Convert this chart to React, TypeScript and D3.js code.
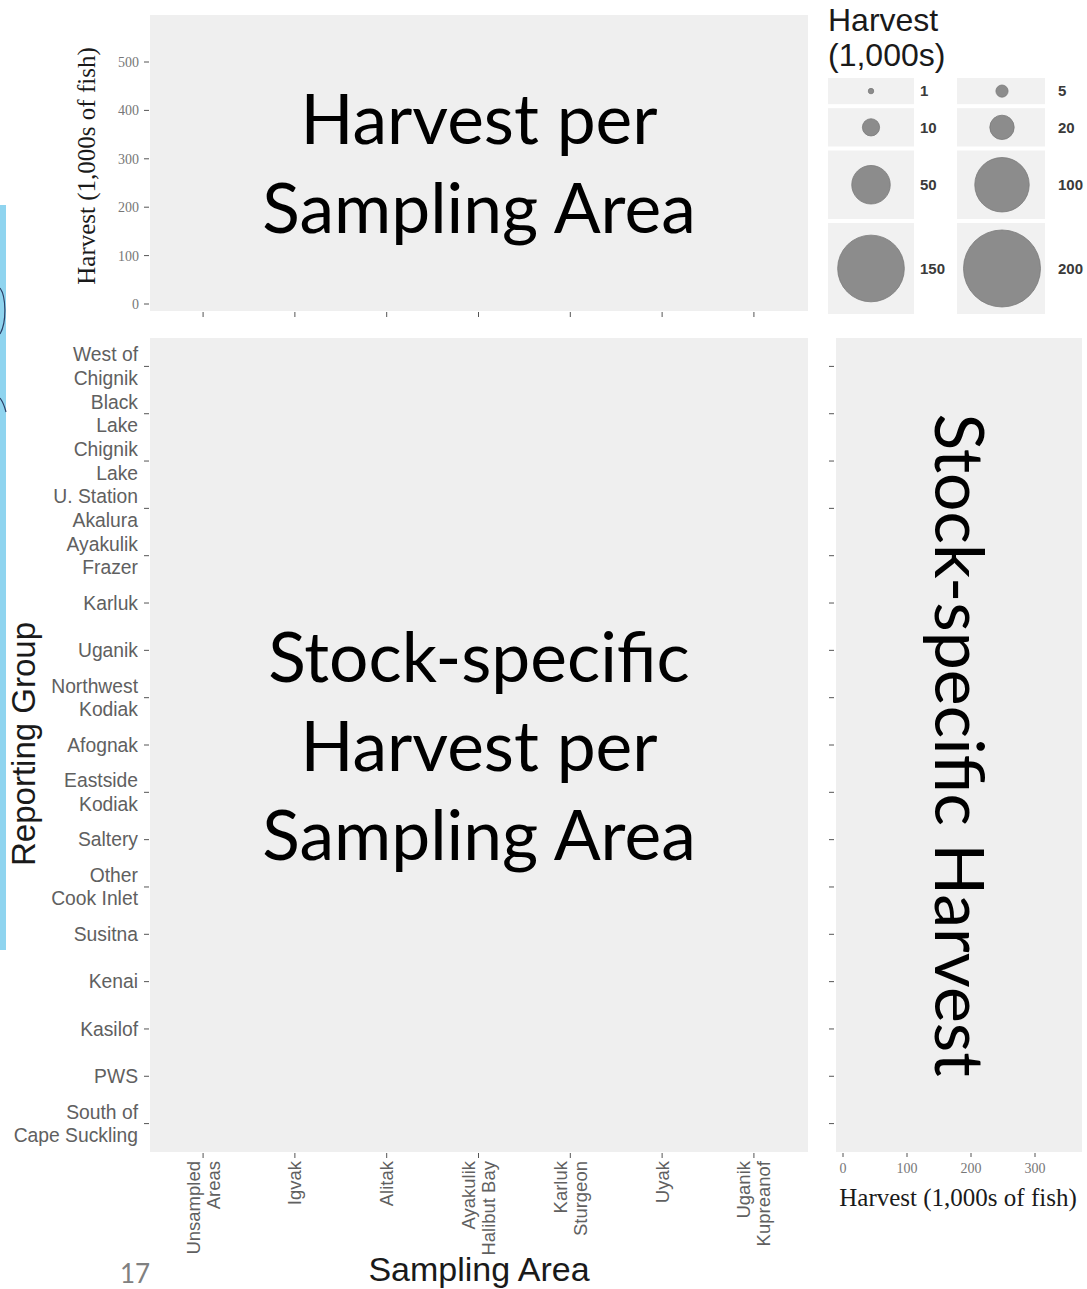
import React from "react";
import * as d3 from "d3";

const samplingAreas = ["Unsampled\nAreas", "Igvak", "Alitak", "Ayakulik\nHalibut Bay", "Karluk\nSturgeon", "Uyak", "Uganik\nKupreanof"];
const reportingGroups = [
  "West of\nChignik", "Black\nLake", "Chignik\nLake", "U. Station\nAkalura", "Ayakulik\nFrazer",
  "Karluk", "Uganik", "Northwest\nKodiak", "Afognak", "Eastside\nKodiak", "Saltery",
  "Other\nCook Inlet", "Susitna", "Kenai", "Kasilof", "PWS", "South of\nCape Suckling",
];
const harvestTicks = [0, 100, 200, 300, 400, 500];
const stockHarvestTicks = [0, 100, 200, 300];
const legendValues = [1, 5, 10, 20, 50, 100, 150, 200];
const legendTitle = ["Harvest", "(1,000s)"];
const topPanelText = ["Harvest per", "Sampling Area"];
const mainPanelText = ["Stock-specific", "Harvest per", "Sampling Area"];
const rightPanelText = "Stock-specific Harvest";

const W = 1087, H = 1289;
const PANEL = "#efefef";
const KEY = "#f1f1f1";
const AXIS_TEXT = "#606060";
const SANS = "'Liberation Sans', Arial, sans-serif";
const SERIF = "'Liberation Serif', 'Times New Roman', serif";
const SLIDE = "Lato, 'Open Sans', sans-serif";

const top = { x0: 150, x1: 808, y0: 15, y1: 311 };
const main = { x0: 150, x1: 808, y0: 338, y1: 1152 };
const right = { x0: 836, x1: 1082, y0: 338, y1: 1152 };

export default function App() {
  const xArea = d3.scalePoint<string>().domain(samplingAreas).range([148, 809]).padding(0.6);
  const yGroup = d3.scalePoint<string>().domain(reportingGroups).range([main.y0, main.y1]).padding(0.6);
  const yTop = d3.scaleLinear().domain([0, 500]).range([304, 62]);
  const xRight = d3.scaleLinear().domain([0, 300]).range([843, 1035]);
  const size = d3.scaleSqrt().domain([0, 200]).range([0, 38.5]);

  const axisFs = 19.3;
  const lineH = 23.5;

  const rows = d3.range(legendValues.length / 2).map((i) => [legendValues[2 * i], legendValues[2 * i + 1]]);
  const rowHeights = rows.map((r) => Math.max(24, 2 * size(d3.max(r) as number) + 14));
  let acc = 78;
  const rowTops = rowHeights.map((h) => { const t = acc; acc += h + 4; return t; });
  const cols = [
    { x: 828, w: 86, cx: 871, lx: 920 },
    { x: 957, w: 88, cx: 1002, lx: 1058 },
  ];

  return (
    <div style={{ position: "absolute", left: 0, top: 0 }}>
      <svg width={W} height={H} style={{ display: "block", background: "#fff" }}>
        <rect x={0} y={205} width={6} height={745} fill="#8fd4ef" />
        <path d="M0,288 C6,296 7,322 0,334" fill="none" stroke="#2a3f66" strokeWidth={1.2} />
        <path d="M0,398 C3,402 5,408 6,412" fill="none" stroke="#2a3f66" strokeWidth={1.2} />

        <rect x={top.x0} y={top.y0} width={top.x1 - top.x0} height={top.y1 - top.y0} fill={PANEL} />
        <rect x={main.x0} y={main.y0} width={main.x1 - main.x0} height={main.y1 - main.y0} fill={PANEL} />
        <rect x={right.x0} y={right.y0} width={right.x1 - right.x0} height={right.y1 - right.y0} fill={PANEL} />

        {harvestTicks.map((t) => (
          <g key={"ty" + t}>
            <line x1={144} x2={149} y1={yTop(t)} y2={yTop(t)} stroke="#555" strokeWidth={1} />
            <text x={139} y={yTop(t)} dy="0.35em" textAnchor="end" fontFamily={SERIF} fontSize={14} fill="#777">{t}</text>
          </g>
        ))}
        <text transform={`translate(95,${(top.y0 + top.y1) / 2 + 3}) rotate(-90)`} textAnchor="middle" fontFamily={SERIF} fontSize={25} fill="#1a1a1a">Harvest (1,000s of fish)</text>

        {samplingAreas.map((a) => (
          <line key={"tx" + a} x1={xArea(a)} x2={xArea(a)} y1={312} y2={317} stroke="#555" strokeWidth={1} />
        ))}

        {reportingGroups.map((g) => {
          const lines = g.split("\n");
          const y = yGroup(g) as number;
          return (
            <g key={"my" + g}>
              <line x1={144} x2={149} y1={y} y2={y} stroke="#555" strokeWidth={1} />
              {lines.map((l, i) => (
                <text key={i} x={138} y={y + (i - (lines.length - 1) / 2) * lineH} dy="0.35em" textAnchor="end" fontFamily={SANS} fontSize={axisFs} fill={AXIS_TEXT}>{l}</text>
              ))}
              <line x1={829} x2={834} y1={y} y2={y} stroke="#555" strokeWidth={1} />
            </g>
          );
        })}
        <text transform={`translate(35,${744}) rotate(-90)`} textAnchor="middle" fontFamily={SANS} fontSize={33} fill="#1a1a1a">Reporting Group</text>

        {samplingAreas.map((a) => {
          const lines = a.split("\n");
          const x = xArea(a) as number;
          return (
            <g key={"mx" + a}>
              <line x1={x} x2={x} y1={1153} y2={1158} stroke="#555" strokeWidth={1} />
              <g transform={`translate(${x},1161) rotate(-90)`}>
                {lines.map((l, i) => (
                  <text key={i} x={0} y={(i - (lines.length - 1) / 2) * 20} dy="0.35em" textAnchor="end" fontFamily={SANS} fontSize={18.5} fill={AXIS_TEXT}>{l}</text>
                ))}
              </g>
            </g>
          );
        })}
        <text x={(main.x0 + main.x1) / 2} y={1281} textAnchor="middle" fontFamily={SANS} fontSize={34} fill="#1a1a1a">Sampling Area</text>

        {stockHarvestTicks.map((t) => (
          <g key={"rx" + t}>
            <line x1={xRight(t)} x2={xRight(t)} y1={1153} y2={1157} stroke="#555" strokeWidth={1} />
            <text x={xRight(t)} y={1173} textAnchor="middle" fontFamily={SERIF} fontSize={14} fill="#777">{t}</text>
          </g>
        ))}
        <text x={958} y={1206} textAnchor="middle" fontFamily={SERIF} fontSize={25} fill="#1a1a1a">Harvest (1,000s of fish)</text>

        {legendTitle.map((t, i) => (
          <text key={"lt" + i} x={828} y={31 + i * 35} fontFamily={SANS} fontSize={32} fill="#1a1a1a">{t}</text>
        ))}
        {rows.map((r, ri) => (
          <g key={"lr" + ri}>
            {r.map((v, ci) => {
              const c = cols[ci];
              const cy = rowTops[ri] + rowHeights[ri] / 2;
              return (
                <g key={"lv" + v}>
                  <rect x={c.x} y={rowTops[ri]} width={c.w} height={rowHeights[ri]} fill={KEY} />
                  <circle cx={c.cx} cy={cy} r={size(v)} fill="#8c8c8c" stroke="#7a7a7a" strokeWidth={0.8} />
                  <text x={c.lx} y={cy} dy="0.35em" fontFamily={SANS} fontSize={15} fontWeight="bold" fill="#3a3a3a">{v}</text>
                </g>
              );
            })}
          </g>
        ))}

        {topPanelText.map((t, i) => (
          <text key={"tp" + i} x={479} y={144 + i * 89} textAnchor="middle" fontFamily={SLIDE} fontSize={69.5} fill="#000">{t}</text>
        ))}
        {mainPanelText.map((t, i) => (
          <text key={"mp" + i} x={479} y={682 + i * 89} textAnchor="middle" fontFamily={SLIDE} fontSize={69.5} fill="#000">{t}</text>
        ))}
        <text transform={`translate(935,745) rotate(90)`} textAnchor="middle" fontFamily={SLIDE} fontSize={68} fill="#000">{rightPanelText}</text>

        <text x={120} y={1283} fontFamily={SLIDE} fontSize={26} fill="#808080">17</text>
      </svg>
    </div>
  );
}
